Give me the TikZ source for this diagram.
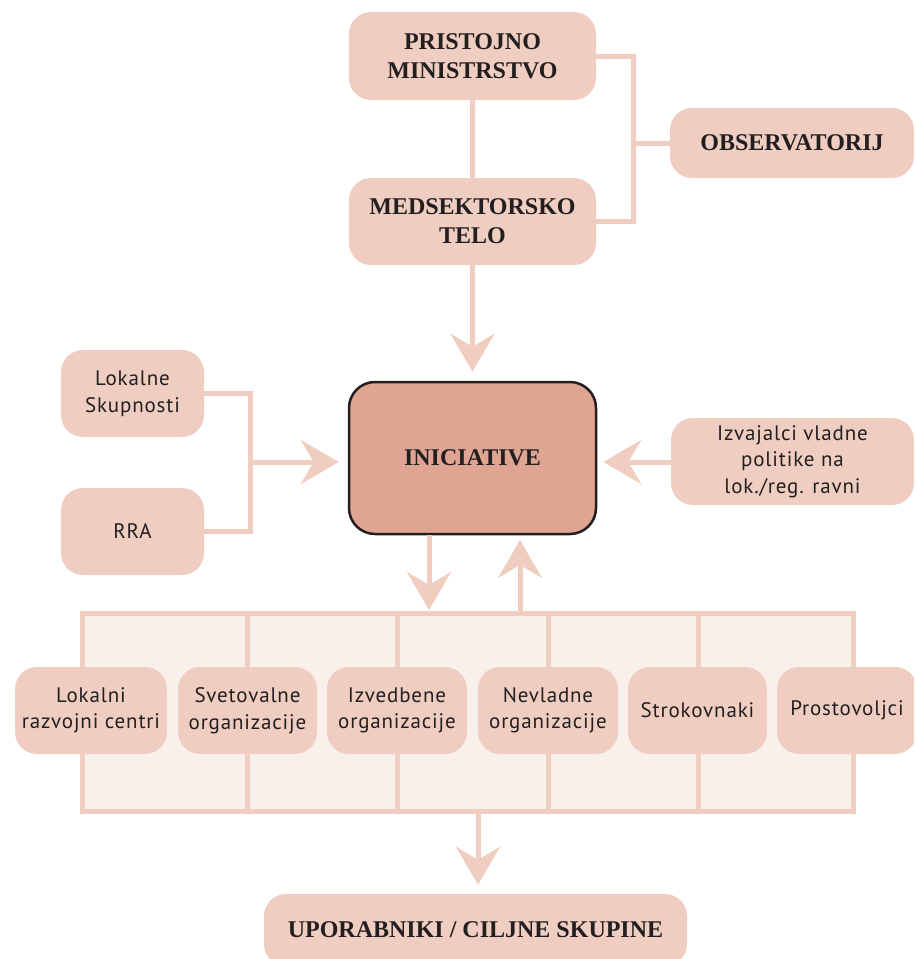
\documentclass[tikz,border=0pt]{standalone}
\usepackage{fontspec}
\usetikzlibrary{arrows.meta}
\newfontfamily\hfont{Liberation Serif}
\newfontfamily\bfont{PT Sans}[LetterSpace=4]
\definecolor{boxc}{HTML}{EFCEC1}
\definecolor{gridc}{HTML}{F9F0EC}
\definecolor{initc}{HTML}{E0A592}
\definecolor{txt}{HTML}{231F20}
\tikzset{
  x=1pt, y=-1pt,
  box/.style={rounded corners=22pt, fill=boxc, draw=none, align=center, inner sep=0pt, text=txt},
  hbox/.style={box, font=\hfont\bfseries\fontsize{24}{29}\selectfont},
  sbox/.style={box, font=\bfont\fontsize{21}{26.5}\selectfont},
  ln/.style={draw=boxc, line width=5pt},
  arr/.style={ln, -{Stealth[length=38pt,width=44pt,inset=13pt]}},
}
\begin{document}
\begin{tikzpicture}
\useasboundingbox (0,0) rectangle (914,959);
\clip (0,0) rectangle (914,959);
% top group
\node[hbox, minimum width=247pt, minimum height=88pt] (pm) at (472.5,56) {PRISTOJNO\\MINISTRSTVO};
\node[hbox, minimum width=247pt, minimum height=87pt] (mt) at (472.5,221.5) {MEDSEKTORSKO\\TELO};
\node[hbox, minimum width=244pt, minimum height=70pt] (obs) at (792,143) {OBSERVATORIJ};
\coordinate (br) at (633,143);
\draw[ln] (pm.south) -- (mt.north);
\draw[ln] (pm.east) -| (br) |- (mt.east);
\draw[ln] (br) -- (obs.west);
% center
\node[rounded corners=26pt, fill=initc, draw=txt, line width=2.5pt, minimum width=247pt, minimum height=152pt, inner sep=0pt, text=txt, font=\hfont\bfseries\fontsize{24}{29}\selectfont] (init) at (472.5,458) {INICIATIVE};
\draw[arr, shorten >=9pt] (mt.south) -- (init.north);
% left
\node[sbox, minimum width=143pt, minimum height=87pt] (lok) at (132.5,393.5) {Lokalne\\Skupnosti};
\node[sbox, minimum width=143pt, minimum height=87pt] (rra) at (132.5,531.5) {RRA};
\coordinate (lb) at (250,462);
\draw[ln] (lok.east) -| (lb) |- (rra.east);
\draw[arr, shorten >=9pt] (lb) -- (init.west |- lb);
% right
\node[sbox, minimum width=243pt, minimum height=87pt] (izv) at (792.5,461.5) {Izvajalci vladne\\politike na\\lok./reg. ravni};
\draw[arr, shorten >=6pt] (izv.west |- lb) -- (init.east |- lb);
% grid
\node[draw=boxc, fill=gridc, line width=5pt, minimum width=771pt, minimum height=198pt, inner sep=0pt] (grid) at (467.5,712) {};
\foreach \gx in {247,397,548,698}{
  \draw[ln] (\gx,613) -- (\gx,811);
}
\coordinate (d1) at (429,535);
\coordinate (d1t) at (429,613);
\draw[arr, shorten >=3pt] (d1) -- (d1t);
\coordinate (u1) at (520,613);
\coordinate (u1t) at (520,535);
\draw[arr, shorten >=5pt] (u1) -- (u1t);
% row of boxes
\node[sbox, minimum width=152pt, minimum height=87pt] (lrc) at (91,710.5) {Lokalni\\razvojni centri};
\node[sbox, minimum width=139pt, minimum height=87pt] (svet) at (247.5,710.5) {Svetovalne\\organizacije};
\node[sbox, minimum width=140pt, minimum height=87pt] (izved) at (397,710.5) {Izvedbene\\organizacije};
\node[sbox, minimum width=140pt, minimum height=87pt] (nevl) at (548,710.5) {Nevladne\\organizacije};
\node[sbox, minimum width=139pt, minimum height=87pt] (strok) at (697.5,710.5) {Strokovnaki};
\node[sbox, minimum width=140pt, minimum height=87pt] (prost) at (847,710.5) {Prostovoljci};
% bottom
\node[hbox, minimum width=423pt, minimum height=72pt] (upo) at (475.5,930) {UPORABNIKI / CILJNE SKUPINE};
\coordinate (gb) at (478,811);
\draw[arr, shorten >=9pt] (gb) -- (upo.north -| gb);
\end{tikzpicture}
\end{document}
